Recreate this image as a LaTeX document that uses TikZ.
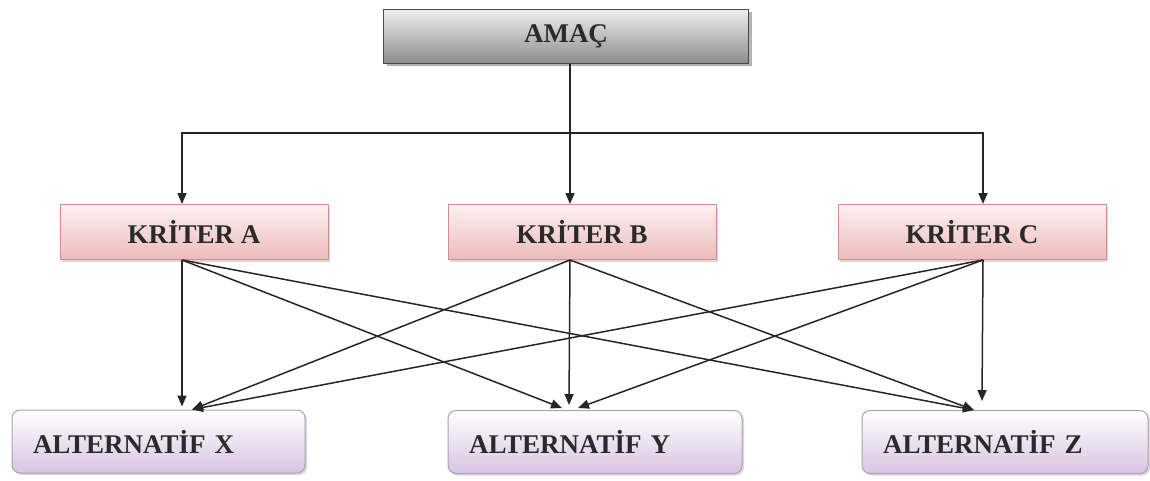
\documentclass[tikz,border=0pt]{standalone}
\usepackage{fontspec}
\setmainfont{Liberation Serif}
\usetikzlibrary{arrows.meta,shadows,calc}
\definecolor{txt}{HTML}{2A2A2A}
\definecolor{krtop}{HTML}{FDF1F1}
\definecolor{krbot}{HTML}{EDBBBB}
\definecolor{krline}{HTML}{D48C8C}
\definecolor{altop}{HTML}{FFFFFF}
\definecolor{albot}{HTML}{D8C4E2}
\definecolor{alline}{HTML}{A8A2B6}
\tikzset{
  lbl/.style={font=\fontsize{27}{30}\selectfont\bfseries, text=txt},
  goalbox/.style={lbl, draw=black!70, line width=1pt, top color=black!6, bottom color=black!45,
     minimum width=365pt, minimum height=54pt,
     drop shadow={shadow xshift=3pt, shadow yshift=-3pt, opacity=0.6}},
  critbox/.style={lbl, draw=krline, line width=1pt, top color=krtop, bottom color=krbot,
     minimum width=268pt, minimum height=55pt,
     drop shadow={shadow xshift=2pt, shadow yshift=-2pt, opacity=0.3}},
  altbox/.style={lbl, draw=alline, line width=1pt, rounded corners=8pt, top color=altop, bottom color=albot,
     minimum height=63pt, text width=#1, align=left, inner xsep=21pt,
     drop shadow={shadow xshift=2pt, shadow yshift=-2pt, opacity=0.3}},
  conn/.style={line width=1.5pt, black!85, -{Triangle[length=11pt,width=9pt]}}
}
\begin{document}
\begin{tikzpicture}[x=1pt,y=-1pt]
\useasboundingbox (0,0) rectangle (1150,480);
\node[goalbox] (amac) at (566,36) {AMAÇ};
\node[critbox] (kA) at (194,232) {KRİTER A};
\node[critbox] (kB) at (582,232) {KRİTER B};
\node[critbox] (kC) at (972,232) {KRİTER C};
\node[altbox=251pt] (aX) at (158.5,441.5) {ALTERNATİF X};
\node[altbox=252pt] (aY) at (595,442) {ALTERNATİF Y};
\node[altbox=244pt] (aZ) at (1005,442) {ALTERNATİF Z};
% attachment points
\coordinate (amacOut) at ([xshift=4pt]amac.south);
\coordinate (hub) at (570,133);
\coordinate (kAin) at ([xshift=-12pt]kA.north);
\coordinate (kBin) at ([xshift=-12pt]kB.north);
\coordinate (kCin) at ([xshift=11pt]kC.north);
\coordinate (kAout) at ([xshift=-12pt]kA.south);
\coordinate (kBout) at ([xshift=-12pt]kB.south);
\coordinate (kCout) at ([xshift=11pt]kC.south);
\coordinate (xV) at ([xshift=23.5pt,yshift=3pt]aX.north);
\coordinate (xD) at ([xshift=33.5pt]aX.north);
\coordinate (yV) at ([xshift=-26pt,yshift=5pt]aY.north);
\coordinate (yA) at ([xshift=-33pt,yshift=2pt]aY.north);
\coordinate (yC) at ([xshift=-17pt,yshift=2pt]aY.north);
\coordinate (zV) at ([xshift=-23pt,yshift=9pt]aZ.north);
\coordinate (zD) at ([xshift=-31pt]aZ.north);
% goal to criteria
\draw[line width=1.5pt, black!85] (amacOut) -- (hub);
\draw[conn] (hub) -| (kAin);
\draw[conn] (hub) -- (kBin);
\draw[conn] (hub) -| (kCin);
% criteria to alternatives
\draw[conn] (kAout) -- (xV);
\draw[conn] (kAout) -- (yA);
\draw[conn] (kAout) -- (zD);
\draw[conn] (kBout) -- (xD);
\draw[conn] (kBout) -- (yV);
\draw[conn] (kBout) -- (zD);
\draw[conn] (kCout) -- (xD);
\draw[conn] (kCout) -- (yC);
\draw[conn] (kCout) -- (zV);
\end{tikzpicture}
\end{document}
